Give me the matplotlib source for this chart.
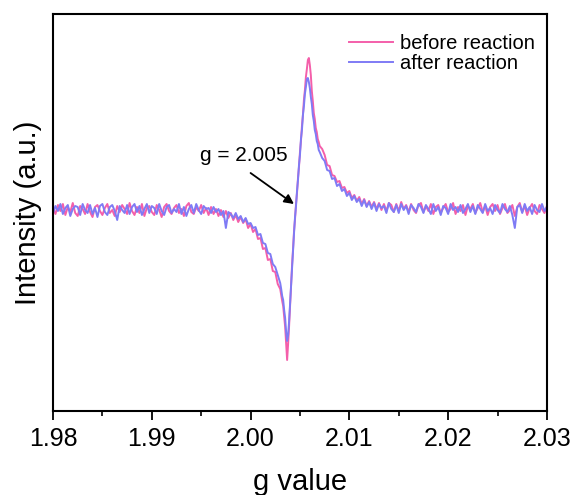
import numpy as np
import matplotlib
matplotlib.use("Agg")
from matplotlib import pyplot as plt
from matplotlib.ticker import MultipleLocator, FormatStrFormatter

plt.rcParams["font.family"] = ["Liberation Sans", "DejaVu Sans"]

# g-value sample positions: coarse on the flat wings, fine across the signal
g_left = np.round(np.arange(1.98, 2.00301, 0.00025), 5)      # 93 points
g_mid = np.round(np.arange(2.0031, 2.00701, 0.0001), 5)      # 40 points
g_right = np.round(np.arange(2.00725, 2.03001, 0.00025), 5)  # 92 points

# intensity (a.u.); baseline = 0
before_left = [
    2, -4, 5, -1, 6, -5, 3, -2, 7, -3,
    -6, 4, 1, -4, 6, -2, -7, 3, 5, -1,
    -5, 2, 6, -3, 0, -6, 4, -2, 5, 1,
    -4, 7, -1, -5, 3, -3, 6, -6, 2, 4,
    -2, -5, 5, 0, -7, 3, 6, -1, -4, 2,
    5, -3, 1, -6, 4, 7, -2, -4, 3, -1,
    5, -3, 2, -5, 3, -4, 1, -6, 0, -7,
    -1, -8, -3, -10, -5, -12, -7, -13, -9, -18,
    -14, -22, -19, -29, -28, -39, -38, -50, -49, -61,
    -62, -74, -79,
]
before_mid = [
    -85, -91, -96, -107, -117, -133, -150, -134, -116, -95,
    -76, -55, -39, -21, -9, 6, 17, 32, 43, 58,
    69, 84, 95, 110, 120, 133, 141, 150, 152, 145,
    135, 119, 109, 97, 91, 82, 78, 71, 68, 64,
]
before_right = [
    61, 55, 45, 44, 35, 34, 28, 29, 22, 23,
    17, 19, 12, 15, 9, 13, 6, 11, 4, 9,
    3, 8, 1, 7, 0, 6, -1, 7, 5, -2,
    6, -1, 8, 1, 5, -2, 6, 0, -3, 5,
    7, -2, 4, -1, 6, -4, 3, 5, -3, 2,
    6, -2, 1, 7, -4, 3, -1, 5, -5, 4,
    1, 6, -3, 2, 7, -2, 4, -5, 3, 6,
    -1, 5, -4, 2, 6, -3, 0, 5, -6, 3,
    7, -2, 4, -5, 2, 6, -1, -4, 5, 1,
    -3, 4,
]

after_left = [
    -3, 4, -1, 6, -4, 2, 5, -6, 1, 4,
    3, -5, 6, 0, -3, 5, -4, 2, -7, 4,
    6, -2, -5, 3, 5, -1, -10, 4, 0, -3,
    5, -4, 3, 6, -2, 4, -5, 1, 6, -3,
    4, 2, -4, 6, -1, -5, 3, 5, -3, 1,
    -2, 6, -4, 3, -6, 1, 5, -3, 6, 0,
    -4, 4, 1, 2, -3, 3, -2, 1, -5, -1,
    -18, -2, -4, -8, -3, -9, -6, -12, -8, -14,
    -13, -18, -17, -25, -24, -33, -34, -43, -44, -54,
    -57, -65, -73,
]
after_mid = [
    -79, -86, -90, -100, -108, -122, -131, -125, -111, -93,
    -75, -56, -37, -23, -7, 4, 19, 30, 45, 55,
    71, 80, 95, 104, 116, 123, 131, 132, 128, 122,
    113, 106, 95, 89, 80, 76, 69, 66, 60, 58,
]
after_right = [
    52, 49, 40, 39, 31, 32, 24, 26, 19, 21,
    14, 17, 10, 14, 8, 11, 4, 10, 3, 8,
    1, 7, -1, 6, 2, 4, -3, 7, 1, -2,
    5, -3, 6, 0, 4, -4, 5, 2, -2, 6,
    3, -3, 5, 1, -4, 6, -1, 3, -5, 4,
    2, -4, 6, 0, 3, -2, 5, -3, 1, 6,
    -2, 4, -4, 5, 1, -3, 6, -1, 2, -4,
    5, 0, -3, 6, 1, -2, 4, -5, -18, 3,
    5, -3, 6, -1, 3, -4, 5, 0, -2, 6,
    -1, 3,
]

g = np.concatenate([g_left, g_mid, g_right])
before = np.array(before_left + before_mid + before_right)
after = np.array(after_left + after_mid + after_right)

fig = plt.figure(figsize=(5.73, 4.95), dpi=100)
ax = fig.add_axes([0.0925, 0.1697, 0.862, 0.802])

ax.plot(g, before, color="#F45FAA", linewidth=1.4, label="before reaction")
ax.plot(g, after, color="#7F7BF5", linewidth=1.4, label="after reaction")

ax.set_xlim(1.98, 2.03)
ax.set_ylim(-201, 196)

ax.xaxis.set_major_locator(MultipleLocator(0.01))
ax.xaxis.set_minor_locator(MultipleLocator(0.005))
ax.xaxis.set_major_formatter(FormatStrFormatter("%.2f"))
ax.tick_params(axis="x", which="major", direction="out", length=6.5, width=1.3,
               labelsize=18, pad=5)
ax.tick_params(axis="x", which="minor", direction="out", length=3.5, width=1.2)
ax.tick_params(axis="y", left=False, labelleft=False)
for s in ax.spines.values():
    s.set_linewidth(1.5)

ax.set_xlabel("g value", fontsize=21, labelpad=12)
ax.set_ylabel("Intensity (a.u.)", fontsize=21, labelpad=8)

ax.annotate("g = 2.005", xy=(2.0044, 6), xytext=(2.0038, 55),
            fontsize=15, ha="right", va="center")
ax.annotate("", xy=(2.00439, 6), xytext=(2.0000, 37),
            arrowprops=dict(arrowstyle="-|>", color="black", lw=1.3,
                            mutation_scale=14, shrinkA=0, shrinkB=0))

ax.legend(loc="upper right", bbox_to_anchor=(0.995, 0.975), frameon=False,
          fontsize=14.5, handlelength=2.2, handletextpad=0.3, labelspacing=0.05,
          borderaxespad=0.3, borderpad=0.2)

fig.savefig("out.png", dpi=100)
